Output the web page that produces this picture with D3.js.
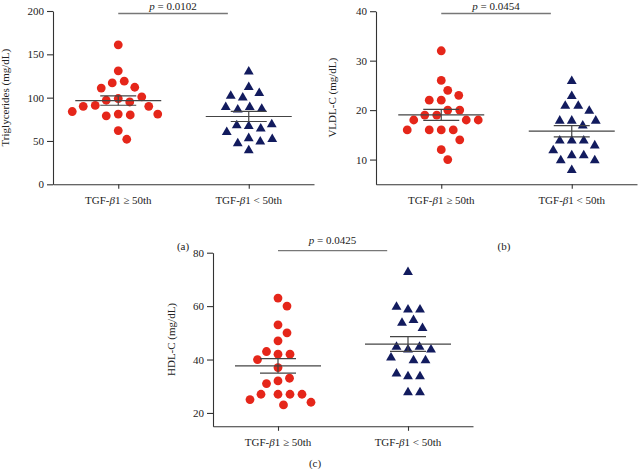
<!DOCTYPE html>
<html>
<head>
<meta charset="utf-8">
<script src="https://cdn.jsdelivr.net/npm/d3@7"></script>
<style>
  body { margin: 0; background: #fff; }
  svg { font-family: "Liberation Serif", "Times New Roman", serif; }
</style>
</head>
<body>
<svg id="chart" width="638" height="469"></svg>
<script>
const groups = ["high", "low"];
const groupLabels = [["TGF-", "β", "1 ≥ 50th"], ["TGF-", "β", "1 < 50th"]];

// triglycerides (mg/dL)
const tgHigh = [161, 131, 119, 117, 112, 111, 99, 101, 95, 97, 91, 90, 90, 81, 80, 79, 81, 84, 62, 52];
const tgLow = [131, 113, 106, 101, 103, 90, 87, 88, 90, 68, 65, 69, 70, 54, 50, 61, 48, 53, 40];
// VLDL-C (mg/dL)
const vldlHigh = [32, 26, 24, 22, 22, 23, 20, 20, 19, 19, 18, 18, 18, 16, 16, 16, 16, 14, 12, 10];
const vldlLow = [26, 23, 21, 21, 20, 18, 18, 18, 17, 14, 14, 14, 13, 12, 11, 11, 10, 10, 8];
// HDL-C (mg/dL)
const hdlHigh = [63, 60, 53, 50, 47, 42, 42, 43, 37, 40, 32, 33, 31, 27, 27, 27, 27, 25, 24, 23];
const hdlLow = [73, 59, 59, 60, 55, 54, 52, 44, 45, 45, 44, 41, 40, 40, 34, 34, 35, 28, 28];

const tgTicks = [0, 50, 100, 150, 200];
const vldlTicks = [10, 20, 30, 40];
const hdlTicks = [20, 40, 60, 80];

const yTitles = ["Triglycerides (mg/dL)", "VLDL-C (mg/dL)", "HDL-C (mg/dL)"];
const pValues = ["0.0102", "0.0454", "0.0425"];
const panelTags = ["(a)", "(b)", "(c)"];

const red = "#e5261a";
const navy = "#121b5e";
const lineColor = "#444";

const svg = d3.select("#chart");

// layout of the three panels
const panels = [
  { high: tgHigh, low: tgLow, ticks: tgTicks, domain: [0, 200], x: [53, 314], y: [184.3, 11], pY: 13.5, title: yTitles[0], titleOff: 48, p: pValues[0], tag: panelTags[0], tagPos: [183, 250] },
  { high: vldlHigh, low: vldlLow, ticks: vldlTicks, domain: [5, 40], x: [376, 637], y: [184.3, 11.2], pY: 13.5, title: yTitles[1], titleOff: 44, p: pValues[1], tag: panelTags[1], tagPos: [504, 250] },
  { high: hdlHigh, low: hdlLow, ticks: hdlTicks, domain: [15, 80], x: [213, 473], y: [426.3, 252.7], pY: 250.7, title: yTitles[2], titleOff: 42, p: pValues[2], tag: panelTags[2], tagPos: [315, 467] }
];

// simple beeswarm: push each point sideways until it doesn't collide
function dodge(vals, yScale, gap) {
  const placed = [];
  return vals.map(v => {
    const py = yScale(v);
    let best = 0;
    for (let k = 0; k < 400; k++) {
      const dx = (k % 2 ? 1 : -1) * Math.ceil(k / 2) * 0.5;
      if (placed.every(p => (p.x - dx) ** 2 + (p.y - py) ** 2 >= gap * gap)) { best = dx; break; }
    }
    placed.push({ x: best, y: py });
    return best;
  });
}

panels.forEach(cfg => {
  const g = svg.append("g");

  const xScale = d3.scalePoint().domain(groups).range(cfg.x).padding(0.5);
  const yScale = d3.scaleLinear().domain(cfg.domain).range(cfg.y);
  const step = xScale.step();

  const yAxis = g.append("g")
    .attr("transform", `translate(${cfg.x[0]},0)`)
    .call(d3.axisLeft(yScale).tickValues(cfg.ticks).tickSize(6).tickSizeOuter(0).tickPadding(3));
  yAxis.selectAll("text").style("font-size", "11px").style("font-family", "Liberation Serif").attr("fill", "#222");

  const xAxis = g.append("g")
    .attr("transform", `translate(0,${cfg.y[0]})`)
    .call(d3.axisBottom(xScale).tickSize(4.5).tickSizeOuter(0).tickFormat(""));

  [yAxis, xAxis].forEach(ax => {
    ax.selectAll("path, line").attr("stroke", "#333").attr("stroke-width", 1.1);
  });

  // category labels
  groups.forEach((grp, i) => {
    const t = g.append("text")
      .attr("x", xScale(grp))
      .attr("y", cfg.y[0] + 20)
      .attr("text-anchor", "middle")
      .style("font-size", "11px")
      .attr("fill", "#222");
    t.append("tspan").text(groupLabels[i][0]);
    t.append("tspan").style("font-style", "italic").text(groupLabels[i][1]);
    t.append("tspan").text(groupLabels[i][2]);
  });

  // y title
  const midY = (cfg.y[0] + cfg.y[1]) / 2;
  g.append("text")
    .attr("transform", `translate(${cfg.x[0] - cfg.titleOff},${midY}) rotate(-90)`)
    .attr("text-anchor", "middle")
    .attr("dy", "0.35em")
    .style("font-size", "11px")
    .attr("fill", "#222")
    .text(cfg.title);

  // points
  const hx = dodge(cfg.high, yScale, 11.8);
  g.selectAll(".dotH")
    .data(cfg.high)
    .join("circle")
    .attr("class", "dotH")
    .attr("cx", (d, i) => xScale("high") + hx[i])
    .attr("cy", d => yScale(d))
    .attr("r", 4.4)
    .attr("fill", red);

  const lx = dodge(cfg.low, yScale, 11.8);
  const tri = d3.symbol(d3.symbolTriangle, 42);
  g.selectAll(".triL")
    .data(cfg.low)
    .join("path")
    .attr("class", "triL")
    .attr("d", tri)
    .attr("transform", (d, i) => `translate(${xScale("low") + lx[i]},${yScale(d) + 0.8})`)
    .attr("fill", navy);

  // mean +/- SEM
  [["high", cfg.high], ["low", cfg.low]].forEach(([grp, vals]) => {
    const m = d3.mean(vals);
    const sem = d3.deviation(vals) / Math.sqrt(vals.length);
    const cx = xScale(grp);
    const eg = g.append("g").attr("stroke", lineColor).attr("stroke-width", 1.2);
    eg.append("line").attr("x1", cx - 43).attr("x2", cx + 43).attr("y1", yScale(m)).attr("y2", yScale(m));
    eg.append("line").attr("x1", cx - 18).attr("x2", cx + 18).attr("y1", yScale(m + sem)).attr("y2", yScale(m + sem));
    eg.append("line").attr("x1", cx - 18).attr("x2", cx + 18).attr("y1", yScale(m - sem)).attr("y2", yScale(m - sem));
    eg.append("line").attr("x1", cx).attr("x2", cx).attr("y1", yScale(m + sem)).attr("y2", yScale(m - sem));
  });

  // significance bar
  const x0 = xScale("high");
  const x1 = x0 + step * 0.84;
  g.append("line")
    .attr("x1", x0).attr("x2", x1)
    .attr("y1", cfg.pY).attr("y2", cfg.pY)
    .attr("stroke", "#777").attr("stroke-width", 1.3);
  const pt = g.append("text")
    .attr("x", (x0 + x1) / 2)
    .attr("y", Math.max(cfg.pY - 6.5, 9.5))
    .attr("text-anchor", "middle")
    .style("font-size", "11px")
    .attr("fill", "#222");
  pt.append("tspan").style("font-style", "italic").text("p");
  pt.append("tspan").text(" = " + cfg.p);

  // panel tag
  g.append("text")
    .attr("x", cfg.tagPos[0])
    .attr("y", cfg.tagPos[1])
    .attr("text-anchor", "middle")
    .style("font-size", "11px")
    .attr("fill", "#222")
    .text(cfg.tag);
});
</script>
</body>
</html>
